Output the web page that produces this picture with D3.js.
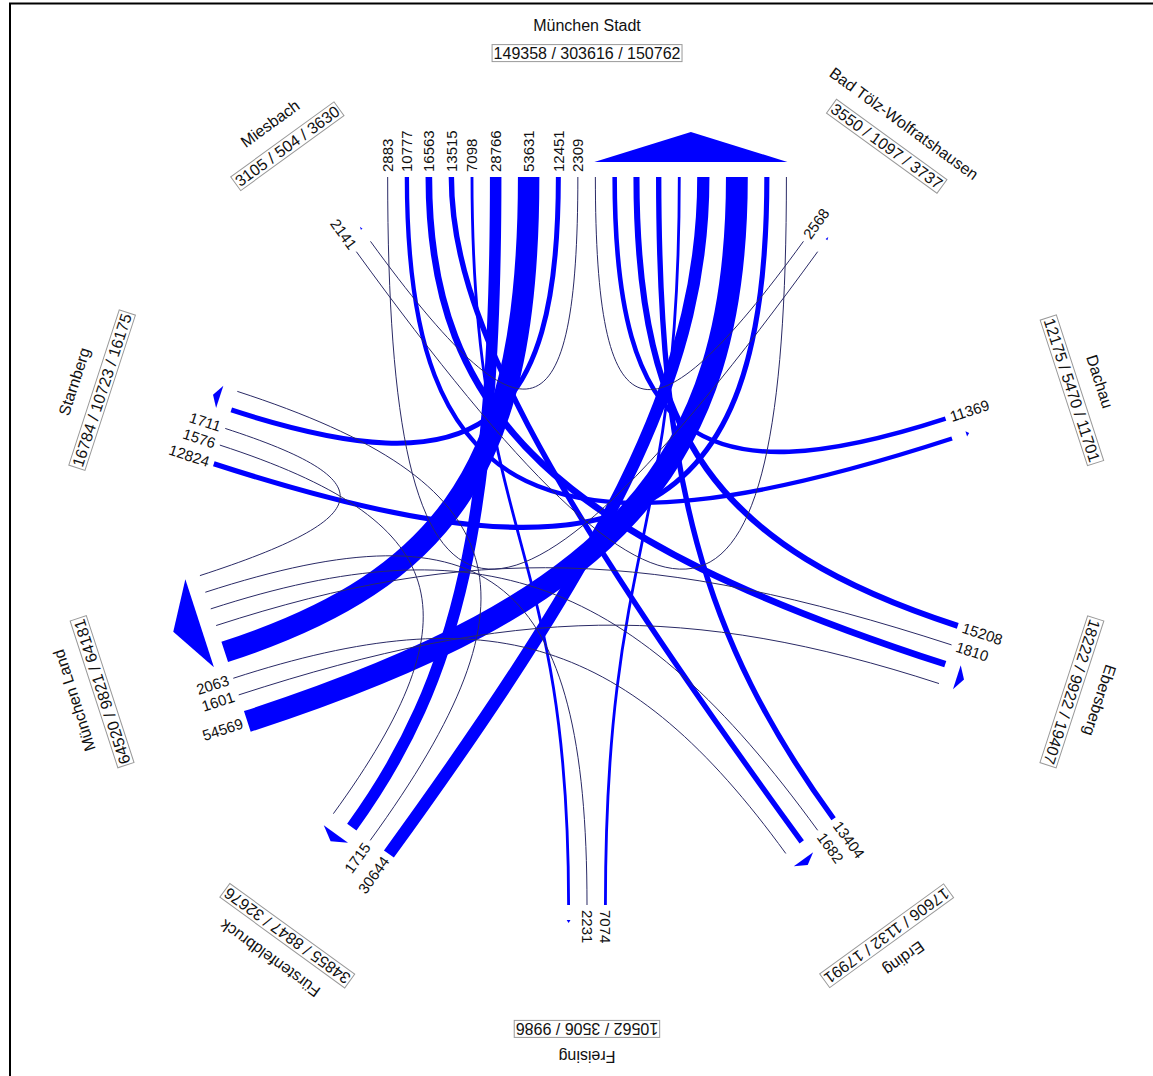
<!DOCTYPE html>
<meta charset="utf-8">
<title>Pendlerverflechtungen</title>
<style>
  body { margin: 0; background: #fff; }
  text { font-family: Arial, "Liberation Sans", sans-serif; fill: #111; }
</style>
<body>
<script src="https://cdn.jsdelivr.net/npm/d3@7"></script>
<script>

// districts, clockwise from the top
var districts = ["München Stadt", "Bad Tölz-Wolfratshausen", "Dachau", "Ebersberg", "Erding",
                 "Freising", "Fürstenfeldbruck", "München Land", "Starnberg", "Miesbach"];
var totals = ["149358 / 303616 / 150762", "3550 / 1097 / 3737", "12175 / 5470 / 11701",
              "18222 / 9922 / 19407", "17606 / 1132 / 17991", "10562 / 3506 / 9986",
              "34855 / 8847 / 32676", "64520 / 9821 / 64181", "16784 / 10723 / 16175",
              "3105 / 504 / 3630"];

// commuter flows that are drawn (index into districts)
var flowSource = [0, 0, 0, 0, 0, 0, 0, 0, 0,   1, 2, 3, 4, 5, 6, 7, 8, 9,   3, 4, 5, 6, 7, 7, 8, 8];
var flowTarget = [1, 2, 3, 4, 5, 6, 7, 8, 9,   0, 0, 0, 0, 0, 0, 0, 0, 0,   7, 7, 7, 8, 3, 4, 6, 7];
var flowValue  = [2883, 10777, 16563, 13515, 7098, 28766, 53631, 12451, 2309,
                  2568, 11369, 15208, 13404, 7074, 30644, 54569, 12824, 2141,
                  1810, 1682, 2231, 1715, 1601, 2063, 1576, 1711];

var W = 1153, H = 1076;
var cx = 587, cy = 541;
var chordR = 364, nameR = 516, boxR = 488, stretch = 1.045;
var gap = 16.5, arrowGap = 15, labelGap = 5;
var thinLimit = 3000;
var bend = 0.75;   // how far the control points go towards the crossing of the two normals

var angle = d3.scaleLinear().domain([0, districts.length]).range([0, 2 * Math.PI]);
var wScale = d3.scaleLinear().domain([0, 2500]).range([0, 1]);

var svg = d3.select("body").append("svg")
    .attr("width", W)
    .attr("height", H);

// frame
svg.append("path")
    .attr("d", "M10," + H + "V3.5H" + W)
    .attr("fill", "none")
    .attr("stroke", "#000")
    .attr("stroke-width", 2);

var nodes = districts.map(function(name, i) {
  var a = angle(i);
  return {
    name: name, total: totals[i], a: a, deg: a * 180 / Math.PI,
    out: [Math.sin(a), -Math.cos(a)],
    inw: [-Math.sin(a), Math.cos(a)],
    tan: [Math.cos(a), Math.sin(a)],
    c: [cx + stretch * chordR * Math.sin(a), cy - chordR * Math.cos(a)]
  };
});

var flows = flowValue.map(function(v, k) {
  return { source: flowSource[k], target: flowTarget[k], value: v, w: Math.max(1, wScale(v)) };
});

// place the ends on each district's bar: outgoing first, then incoming
nodes.forEach(function(nd, i) {
  var outs = flows.filter(function(f) { return f.source === i; }).sort(function(a, b) { return a.target - b.target; });
  var ins = flows.filter(function(f) { return f.target === i; }).sort(function(a, b) { return a.source - b.source; });
  var slots = outs.map(function(f) { return { f: f, end: "p0" }; })
      .concat(ins.map(function(f) { return { f: f, end: "p3" }; }));
  var L = d3.sum(slots, function(s) { return s.f.w; }) + slots.length * gap;
  var cur = -L / 2 + gap / 2;
  slots.forEach(function(s) {
    var m = cur + s.f.w / 2;
    s.f[s.end] = [nd.c[0] + m * nd.tan[0], nd.c[1] + m * nd.tan[1]];
    cur += s.f.w + gap;
  });
  if (ins.length) {
    var s0 = -L / 2 + gap / 2 + d3.sum(outs, function(f) { return f.w; }) + outs.length * gap;
    nd.arrow = [s0, L / 2 - gap / 2];
  }
});

function curve(f) {
  var p0 = f.p0, p3 = f.p3;
  var n0 = nodes[f.source].inw, n3 = nodes[f.target].inw;
  var D = [p3[0] - p0[0], p3[1] - p0[1]];
  var den = n0[0] * n3[1] - n0[1] * n3[0];
  var d0 = Math.hypot(D[0], D[1]) / 2, d3 = d0;
  if (Math.abs(den) > 0.05) {
    var a = (D[0] * n3[1] - D[1] * n3[0]) / den;
    var b = (D[0] * n0[1] - D[1] * n0[0]) / den;
    if (a > 0 && b > 0) { d0 = bend * a; d3 = bend * b; }
  }
  var p = d3path();
  p.moveTo(p0[0], p0[1]);
  p.bezierCurveTo(p0[0] + d0 * n0[0], p0[1] + d0 * n0[1], p3[0] + d3 * n3[0], p3[1] + d3 * n3[1], p3[0], p3[1]);
  return p.toString();
}
function d3path() { return d3.path(); }

// wide flows
svg.append("g").selectAll("path")
  .data(flows.filter(function(f) { return f.value >= thinLimit; }))
  .join("path")
    .attr("d", curve)
    .attr("fill", "none")
    .attr("stroke", "#0000ff")
    .attr("stroke-width", function(f) { return f.w; });

// small flows
svg.append("g").selectAll("path")
  .data(flows.filter(function(f) { return f.value < thinLimit; }))
  .join("path")
    .attr("d", curve)
    .attr("fill", "none")
    .attr("stroke", "#2a2a66")
    .attr("stroke-width", 1);

// arrowheads over the incoming ends
svg.append("g").selectAll("path")
  .data(nodes.filter(function(nd) { return nd.arrow; }))
  .join("path")
    .attr("d", function(nd) {
      var s0 = nd.arrow[0] - 0.5, s1 = nd.arrow[1] + 0.5;
      var h = Math.max(3, Math.min(30, (s1 - s0) * 0.3));
      function pt(s, r) {
        return [nd.c[0] + s * nd.tan[0] + r * nd.out[0], nd.c[1] + s * nd.tan[1] + r * nd.out[1]];
      }
      return "M" + pt(s0, arrowGap) + "L" + pt(s1, arrowGap) + "L" + pt((s0 + s1) / 2, arrowGap + h) + "Z";
    })
    .attr("fill", "#0000ff");

// value labels at the outgoing ends
svg.append("g").selectAll("text")
  .data(flows)
  .join("text")
    .attr("transform", function(f) {
      var nd = nodes[f.source];
      var x = f.p0[0] + labelGap * nd.out[0], y = f.p0[1] + labelGap * nd.out[1];
      var rot = Math.atan2(nd.out[1], nd.out[0]) * 180 / Math.PI + (nd.deg <= 180.01 ? 0 : 180);
      return "translate(" + x + "," + y + ") rotate(" + rot + ")";
    })
    .attr("text-anchor", function(f) { return nodes[f.source].deg <= 180.01 ? "start" : "end"; })
    .attr("dy", "0.35em")
    .style("font-size", "15px")
    .text(function(f) { return f.value; });

// district names and totals
nodes.forEach(function(nd) {
  var s = Math.sin(nd.a), c = Math.cos(nd.a);
  svg.append("text")
      .attr("transform", "translate(" + (cx + stretch * nameR * s) + "," + (cy - nameR * c) + ") rotate(" + nd.deg + ")")
      .attr("text-anchor", "middle")
      .attr("dy", "0.35em")
      .style("font-size", "16px")
      .text(nd.name);

  var g = svg.append("g")
      .attr("transform", "translate(" + (cx + stretch * boxR * s) + "," + (cy - boxR * c) + ") rotate(" + nd.deg + ")");
  var t = g.append("text")
      .attr("text-anchor", "middle")
      .attr("dy", "0.35em")
      .style("font-size", "16px")
      .text(nd.total);
  var bb = t.node().getBBox();
  g.insert("rect", "text")
      .attr("x", bb.x - 1.5)
      .attr("y", bb.y)
      .attr("width", bb.width + 3)
      .attr("height", bb.height)
      .attr("fill", "#fff")
      .attr("stroke", "#999")
      .attr("stroke-width", 1);
});

</script>
